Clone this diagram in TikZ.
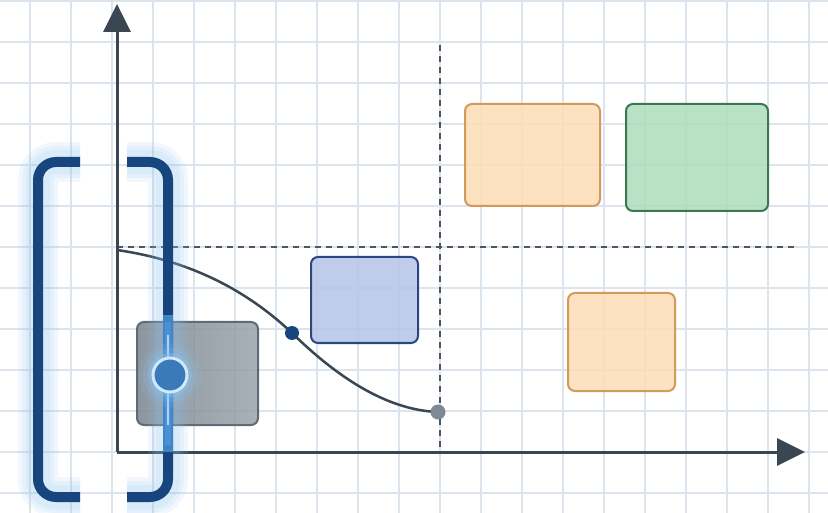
\documentclass[tikz,border=0pt]{standalone}
\usetikzlibrary{arrows.meta}
\definecolor{gridc}{HTML}{DCE4ED}
\definecolor{axisc}{HTML}{3A4652}
\definecolor{dashc}{HTML}{4C5660}
\definecolor{navy}{HTML}{17467F}
\definecolor{glowc}{HTML}{8CC4F2}
\definecolor{litblue}{HTML}{4A90D4}
\definecolor{orfill}{HTML}{FDDDB8}
\definecolor{ordraw}{HTML}{D49A5A}
\definecolor{grfill}{HTML}{ADDDBC}
\definecolor{grdraw}{HTML}{3D7652}
\definecolor{blfill}{HTML}{B6C4E8}
\definecolor{bldraw}{HTML}{2C4682}
\definecolor{slateL}{HTML}{7A848E}
\definecolor{slateR}{HTML}{9AA3AC}
\definecolor{slateD}{HTML}{616B75}
\definecolor{enddot}{HTML}{7D8A96}
\begin{document}
\begin{tikzpicture}[x=1pt, y=-1pt,
	box/.style = {rounded corners=7pt, line width=2pt, fill opacity=0.85, minimum width=#1, inner sep=0pt},
	axis/.style = {line width=3pt, draw=axisc, -{Triangle[length=28pt, width=27pt]}},
	guide/.style = {line width=2.5pt, draw=dashc, dash pattern=on 6pt off 5pt},
	brack/.style = {line width=10pt, draw=navy, rounded corners=18pt},
	halo/.style = {line width=#1, draw=glowc, opacity=0.12, rounded corners=18pt},
	dot/.style = {circle, inner sep=0pt, minimum size=#1}]
	\useasboundingbox (0,0) rectangle (828,513);
	\fill[white] (0,0) rectangle (828,513);
	% grid
	\foreach \gx in {30,71,...,850} \draw[gridc, line width=1.5pt] (\gx,0) -- (\gx,513);
	\foreach \gy in {1,42,...,520} \draw[gridc, line width=1.5pt] (0,\gy) -- (828,\gy);
	% blocks
	\node[box, minimum width=121pt, minimum height=103pt, draw=slateD, left color=slateL, right color=slateR] (grayblk) at (197.5,373.5) {};
	\node[box, minimum width=107pt, minimum height=86pt, draw=bldraw, fill=blfill] (blueblk) at (364.5,300) {};
	\node[box, minimum width=135pt, minimum height=102pt, draw=ordraw, fill=orfill] (orblkA) at (532.5,155) {};
	\node[box, minimum width=142pt, minimum height=107pt, draw=grdraw, fill=grfill] (greenblk) at (697,157.5) {};
	\node[box, minimum width=107pt, minimum height=98pt, draw=ordraw, fill=orfill] (orblkB) at (621.5,342) {};
	% guides
	\coordinate (hgA) at (117,247);
	\coordinate (hgB) at (795,247);
	\coordinate (vgA) at (440,45);
	\coordinate (vgB) at (440,452);
	\draw[guide] (hgA) -- (hgB);
	\draw[guide] (vgA) -- (vgB);
	% axes
	\coordinate (origin) at (117,452);
	\coordinate (ytip) at (117,4);
	\coordinate (xtip) at (805,452);
	\draw[axis] (origin) -- (ytip);
	\draw[axis] (origin) -- (xtip);
	% curve
	\coordinate (cstart) at (117,250);
	\coordinate (knee) at (292,333);
	\coordinate (cend) at (438,412);
	\draw[axisc, line width=2.5pt] (cstart) .. controls (200,262) and (255,298) .. (knee)
		.. controls (335,375) and (385,410) .. (cend);
	\node[dot=14pt, fill=navy] (kneedot) at (knee) {};
	\node[dot=15pt, fill=enddot] (enddot) at (cend) {};
	% brackets
	\foreach \w in {40,32,24} {
		\draw[halo=\w pt] (80,162) -- (38,162) -- (38,497) -- (80,497);
		\draw[halo=\w pt] (127,162) -- (168,162) -- (168,497) -- (127,497);
	}
	\draw[brack, line cap=butt] (80,162) -- (38,162) -- (38,497) -- (80,497);
	\draw[brack, line cap=butt] (127,162) -- (168,162) -- (168,497) -- (127,497);
	\draw[litblue!85!navy, line width=10pt] (168,315) -- (168,452);
	\draw[litblue, line width=6pt] (168,322) -- (168,445);
	\draw[glowc!70!white, line width=2.5pt] (168,335) -- (168,425);
	% handle
	\foreach \r/\o in {32/0.12,27/0.2,22/0.35} \fill[glowc, opacity=\o] (170,375) circle (\r);
	\node[dot=34pt, fill=litblue!70!navy, draw=glowc!40!white, line width=3pt] (handle) at (170,375) {};
\end{tikzpicture}
\end{document}
